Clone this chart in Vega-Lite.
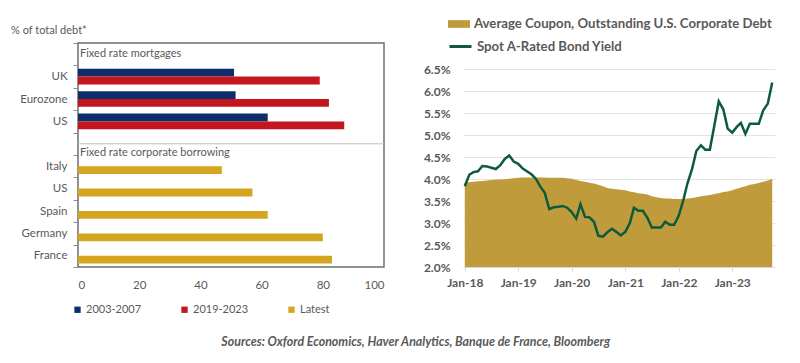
{
  "$schema": "https://vega.github.io/schema/vega-lite/v6.json",
  "background": "white",
  "padding": {"left": 10, "top": 13, "right": 10, "bottom": 5},
  "spacing": 37,
  "resolve": {"scale": {"color": "independent", "fill": "independent", "stroke": "independent"}, "legend": {"color": "independent", "fill": "independent", "stroke": "independent"}},
  "config": {"view": {"stroke": null}, "font": "Lato"},
  "title": {"text": "Sources: Oxford Economics, Haver Analytics, Banque de France, Bloomberg", "orient": "bottom", "anchor": "middle", "font": "Lato", "fontSize": 12.4, "fontStyle": "italic", "fontWeight": "bold", "color": "#595959", "offset": 20, "dx": 22},
  "hconcat": [
    {
      "width": 306,
      "height": 224,
      "view": {"stroke": "#6E6E6E", "strokeWidth": 1.5},
      "title": {"text": "% of total debt*", "anchor": "start", "frame": "group", "dx": -67, "dy": 5, "offset": 6, "font": "Lato", "fontSize": 11, "fontWeight": "normal", "color": "#595959"},
      "encoding": {
        "y": {"field": "key", "type": "nominal",
          "scale": {"domain": ["mortgages-", "mortgages-UK", "mortgages-Eurozone", "mortgages-US", "corporate-", "corporate-Italy", "corporate-US", "corporate-Spain", "corporate-Germany", "corporate-France"], "paddingInner": 0, "paddingOuter": 0},
          "axis": {"title": null, "tickBand": "extent", "domain": false, "ticks": true, "tickColor": "#8C8C8C", "tickSize": 5, "labelPadding": 6, "labelFont": "Lato", "labelFontSize": 11.5, "labelColor": "#595959", "labelExpr": "slice(datum.label, indexof(datum.label, '-') + 1)"}
        }
      },
      "layer": [
        {
          "data": {"values": [{"key": "corporate-"}]},
          "mark": {"type": "rule", "color": "#BFBFBF", "strokeWidth": 1}
        },
        {
          "data": {"values": [
            {"key": "mortgages-UK", "series": "2003-2007", "slot": "a", "value": 51},
            {"key": "mortgages-UK", "series": "2019-2023", "slot": "b", "value": 79},
            {"key": "mortgages-Eurozone", "series": "2003-2007", "slot": "a", "value": 51.5},
            {"key": "mortgages-Eurozone", "series": "2019-2023", "slot": "b", "value": 82},
            {"key": "mortgages-US", "series": "2003-2007", "slot": "a", "value": 62},
            {"key": "mortgages-US", "series": "2019-2023", "slot": "b", "value": 87},
            {"key": "corporate-Italy", "series": "Latest", "slot": "b", "value": 47},
            {"key": "corporate-US", "series": "Latest", "slot": "b", "value": 57},
            {"key": "corporate-Spain", "series": "Latest", "slot": "b", "value": 62},
            {"key": "corporate-Germany", "series": "Latest", "slot": "b", "value": 80},
            {"key": "corporate-France", "series": "Latest", "slot": "b", "value": 83}
          ]},
          "mark": {"type": "bar"},
          "encoding": {
            "yOffset": {"field": "slot", "type": "nominal", "scale": {"domain": ["a", "b"], "paddingInner": 0, "paddingOuter": 0.435}},
            "x": {"field": "value", "type": "quantitative", "scale": {"domain": [0, 100], "nice": false},
              "axis": {"title": null, "values": [0, 20, 40, 60, 80, 100], "grid": false, "ticks": false, "domain": false, "labelPadding": 12, "labelFont": "Lato", "labelFontSize": 11.5, "labelColor": "#595959"}},
            "color": {"field": "series", "type": "nominal",
              "scale": {"domain": ["2003-2007", "2019-2023", "Latest"], "range": ["#0E2D6B", "#C3161F", "#D4A51F"]},
              "legend": {"orient": "none", "direction": "horizontal", "legendX": -6, "legendY": 261, "title": null, "symbolType": "square", "symbolSize": 40, "columnPadding": 37, "labelFont": "Lato", "labelFontSize": 11, "labelColor": "#595959", "labelOffset": 3}}
          }
        },
        {
          "data": {"values": [{"key": "mortgages-", "heading": "Fixed rate mortgages"}]},
          "mark": {"type": "text", "align": "left", "baseline": "middle", "dx": 2, "font": "Lato", "fontSize": 11, "color": "#595959"},
          "encoding": {"x": {"datum": 0, "type": "quantitative"}, "text": {"field": "heading"}}
        },
        {
          "data": {"values": [{"key": "corporate-", "heading": "Fixed rate corporate borrowing"}]},
          "mark": {"type": "text", "align": "left", "baseline": "middle", "dx": 2, "dy": 9, "font": "Lato", "fontSize": 11, "color": "#595959"},
          "encoding": {"x": {"datum": 0, "type": "quantitative"}, "text": {"field": "heading"}}
        }
      ]
    },
    {
      "width": 312,
      "height": 224,
      "data": {"values": [
        {"date": "2018-01-01", "coupon": 3.93, "spot": 3.84},
        {"date": "2018-02-01", "coupon": 3.93, "spot": 4.10},
        {"date": "2018-03-01", "coupon": 3.94, "spot": 4.16},
        {"date": "2018-04-01", "coupon": 3.95, "spot": 4.18},
        {"date": "2018-05-01", "coupon": 3.96, "spot": 4.30},
        {"date": "2018-06-01", "coupon": 3.97, "spot": 4.29},
        {"date": "2018-07-01", "coupon": 3.98, "spot": 4.26},
        {"date": "2018-08-01", "coupon": 3.99, "spot": 4.23},
        {"date": "2018-09-01", "coupon": 3.99, "spot": 4.32},
        {"date": "2018-10-01", "coupon": 4.00, "spot": 4.46},
        {"date": "2018-11-01", "coupon": 4.01, "spot": 4.54},
        {"date": "2018-12-01", "coupon": 4.02, "spot": 4.40},
        {"date": "2019-01-01", "coupon": 4.03, "spot": 4.35},
        {"date": "2019-02-01", "coupon": 4.04, "spot": 4.24},
        {"date": "2019-03-01", "coupon": 4.04, "spot": 4.18},
        {"date": "2019-04-01", "coupon": 4.04, "spot": 4.11},
        {"date": "2019-05-01", "coupon": 4.04, "spot": 4.01},
        {"date": "2019-06-01", "coupon": 4.04, "spot": 3.83},
        {"date": "2019-07-01", "coupon": 4.04, "spot": 3.69},
        {"date": "2019-08-01", "coupon": 4.03, "spot": 3.32},
        {"date": "2019-09-01", "coupon": 4.03, "spot": 3.36},
        {"date": "2019-10-01", "coupon": 4.03, "spot": 3.37},
        {"date": "2019-11-01", "coupon": 4.03, "spot": 3.39},
        {"date": "2019-12-01", "coupon": 4.02, "spot": 3.35},
        {"date": "2020-01-01", "coupon": 4.01, "spot": 3.25},
        {"date": "2020-02-01", "coupon": 3.98, "spot": 3.10},
        {"date": "2020-03-01", "coupon": 3.96, "spot": 3.43},
        {"date": "2020-04-01", "coupon": 3.94, "spot": 3.14},
        {"date": "2020-05-01", "coupon": 3.92, "spot": 3.13},
        {"date": "2020-06-01", "coupon": 3.90, "spot": 3.03},
        {"date": "2020-07-01", "coupon": 3.87, "spot": 2.71},
        {"date": "2020-08-01", "coupon": 3.84, "spot": 2.69},
        {"date": "2020-09-01", "coupon": 3.80, "spot": 2.79},
        {"date": "2020-10-01", "coupon": 3.78, "spot": 2.87},
        {"date": "2020-11-01", "coupon": 3.77, "spot": 2.80},
        {"date": "2020-12-01", "coupon": 3.76, "spot": 2.72},
        {"date": "2021-01-01", "coupon": 3.75, "spot": 2.80},
        {"date": "2021-02-01", "coupon": 3.72, "spot": 3.00},
        {"date": "2021-03-01", "coupon": 3.70, "spot": 3.35},
        {"date": "2021-04-01", "coupon": 3.68, "spot": 3.28},
        {"date": "2021-05-01", "coupon": 3.67, "spot": 3.28},
        {"date": "2021-06-01", "coupon": 3.65, "spot": 3.12},
        {"date": "2021-07-01", "coupon": 3.61, "spot": 2.90},
        {"date": "2021-08-01", "coupon": 3.59, "spot": 2.90},
        {"date": "2021-09-01", "coupon": 3.57, "spot": 2.90},
        {"date": "2021-10-01", "coupon": 3.56, "spot": 3.03},
        {"date": "2021-11-01", "coupon": 3.56, "spot": 2.96},
        {"date": "2021-12-01", "coupon": 3.55, "spot": 2.96},
        {"date": "2022-01-01", "coupon": 3.55, "spot": 3.17},
        {"date": "2022-02-01", "coupon": 3.55, "spot": 3.52},
        {"date": "2022-03-01", "coupon": 3.56, "spot": 3.90},
        {"date": "2022-04-01", "coupon": 3.57, "spot": 4.22},
        {"date": "2022-05-01", "coupon": 3.59, "spot": 4.64},
        {"date": "2022-06-01", "coupon": 3.61, "spot": 4.77},
        {"date": "2022-07-01", "coupon": 3.62, "spot": 4.67},
        {"date": "2022-08-01", "coupon": 3.64, "spot": 4.67},
        {"date": "2022-09-01", "coupon": 3.66, "spot": 5.22},
        {"date": "2022-10-01", "coupon": 3.68, "spot": 5.77},
        {"date": "2022-11-01", "coupon": 3.71, "spot": 5.59},
        {"date": "2022-12-01", "coupon": 3.72, "spot": 5.15},
        {"date": "2023-01-01", "coupon": 3.75, "spot": 5.06},
        {"date": "2023-02-01", "coupon": 3.78, "spot": 5.19},
        {"date": "2023-03-01", "coupon": 3.81, "spot": 5.28},
        {"date": "2023-04-01", "coupon": 3.84, "spot": 5.03},
        {"date": "2023-05-01", "coupon": 3.87, "spot": 5.26},
        {"date": "2023-06-01", "coupon": 3.89, "spot": 5.26},
        {"date": "2023-07-01", "coupon": 3.91, "spot": 5.26},
        {"date": "2023-08-01", "coupon": 3.94, "spot": 5.57},
        {"date": "2023-09-01", "coupon": 3.97, "spot": 5.72},
        {"date": "2023-10-01", "coupon": 4.01, "spot": 6.20}
      ]},
      "encoding": {
        "x": {"field": "date", "type": "temporal",
          "scale": {"domain": [{"year": 2017, "month": 12, "date": 20}, {"year": 2023, "month": 10, "date": 20}]},
          "axis": {"title": null, "values": [{"year": 2018, "month": 1, "date": 1}, {"year": 2019, "month": 1, "date": 1}, {"year": 2020, "month": 1, "date": 1}, {"year": 2021, "month": 1, "date": 1}, {"year": 2022, "month": 1, "date": 1}, {"year": 2023, "month": 1, "date": 1}],
            "format": "%b-%y", "grid": false, "domain": true, "domainColor": "#D9D9D9", "ticks": true, "tickColor": "#D9D9D9", "tickSize": 4, "labelPadding": 6, "labelFont": "Lato", "labelFontSize": 12, "labelFontWeight": "bold", "labelColor": "#595959", "labelOverlap": false}}
      },
      "layer": [
        {
          "mark": {"type": "area"},
          "encoding": {
            "y": {"field": "coupon", "type": "quantitative", "scale": {"domain": [2, 7.1], "zero": false, "nice": false},
              "axis": {"title": null, "values": [2, 2.5, 3, 3.5, 4, 4.5, 5, 5.5, 6, 6.5], "labelExpr": "format(datum.value, '.1f') + '%'", "labelOverlap": false, "grid": true, "gridColor": "#E3E3E3", "domain": false, "ticks": false, "labelPadding": 13, "labelFont": "Lato", "labelFontSize": 12, "labelFontWeight": "bold", "labelColor": "#595959"}},
            "y2": {"datum": 2},
            "fill": {"datum": "Average Coupon, Outstanding U.S. Corporate Debt", "type": "nominal", "scale": {"range": ["#BF9B3B"]},
              "legend": {"orient": "none", "legendX": -15, "legendY": -30, "title": null, "symbolType": "M-1,-0.35H1V0.35H-1Z", "symbolSize": 484, "symbolStrokeWidth": 0, "labelFont": "Lato", "labelFontSize": 13.2, "labelFontWeight": "bold", "labelColor": "#595959", "labelOffset": 4, "labelLimit": 400}}
          }
        },
        {
          "mark": {"type": "line", "strokeWidth": 2.5},
          "encoding": {
            "y": {"field": "spot", "type": "quantitative", "scale": {"domain": [2, 7.1], "zero": false, "nice": false},
              "axis": {"title": null, "values": [2, 2.5, 3, 3.5, 4, 4.5, 5, 5.5, 6, 6.5], "labelExpr": "format(datum.value, '.1f') + '%'", "labelOverlap": false, "grid": true, "gridColor": "#E3E3E3", "domain": false, "ticks": false, "labelPadding": 13, "labelFont": "Lato", "labelFontSize": 12, "labelFontWeight": "bold", "labelColor": "#595959"}},
            "stroke": {"datum": "Spot A-Rated Bond Yield", "type": "nominal", "scale": {"range": ["#0D5B3B"]},
              "legend": {"orient": "none", "legendX": -15, "legendY": -9, "title": null, "symbolType": "stroke", "symbolSize": 484, "symbolStrokeWidth": 3, "labelFont": "Lato", "labelFontSize": 13.2, "labelFontWeight": "bold", "labelColor": "#595959", "labelOffset": 4, "labelLimit": 400}}
          }
        }
      ]
    }
  ]
}
